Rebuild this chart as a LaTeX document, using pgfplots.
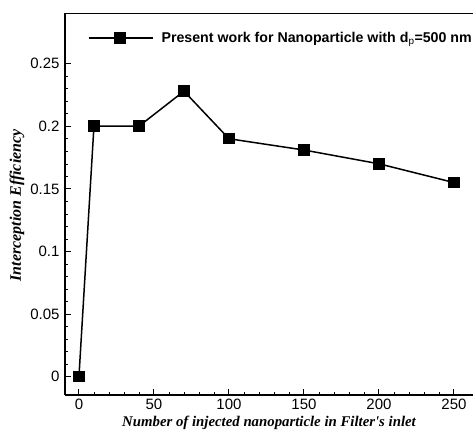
\documentclass[border=0pt]{standalone}
\usepackage{pgfplots}
\pgfplotsset{compat=1.18}
\usepackage{fontspec}
\setmainfont{Liberation Sans}
\newfontfamily\timesfont{Liberation Serif}
\begin{document}
\begin{tikzpicture}[x=1pt,y=1pt]
\path[use as bounding box] (-65,-35) rectangle (408,395);
\begin{axis}[
  at={(0,0)}, anchor=south west,
  scale only axis, width=408pt, height=381.5pt,
  xmin=-9.3, xmax=262.7, ymin=-0.0146, ymax=0.29,
  axis x line=bottom, axis y line=left,
  axis line style={line width=1.5pt, -},
  xtick={0,50,...,250}, ytick={0,0.05,...,0.25},
  minor x tick num=4, minor y tick num=4,
  tick align=inside,
  major tick length=6pt, minor tick length=3pt,
  every tick/.style={black, line width=1pt},
  minor tick style={line width=0.5pt},
  /pgf/number format/assume math mode=true,
  yticklabel style={/pgf/number format/fixed, /pgf/number format/precision=2, font=\fontsize{15}{15}\selectfont, xshift=-2pt},
  xticklabel style={font=\fontsize{15}{15}\selectfont},
  scaled y ticks=false,
  xlabel={Number of injected nanoparticle in Filter's inlet},
  ylabel={Interception Efficiency},
  xlabel style={at={(axis description cs:0.5,-0.073)}, anchor=center, font=\timesfont\bfseries\itshape\fontsize{14.8}{15}\selectfont},
  ylabel style={at={(axis description cs:-0.118,0.497)}, anchor=center, font=\timesfont\bfseries\itshape\fontsize{16}{16}\selectfont},
  legend style={draw=none, fill=none, at={(axis description cs:0.056,0.936)}, anchor=west,
    font=\bfseries\fontsize{14.2}{14}\selectfont, inner sep=0pt, legend cell align=left},
  legend image code/.code={
    \draw[line width=1.5pt] (0pt,0pt) -- (64pt,0pt);
    \fill[black] (26pt,-5pt) rectangle (36pt,5pt);
  },
  legend style={/tikz/every even column/.append style={column sep=0pt}},
  clip=false,
]
\draw[line width=1.5pt] (rel axis cs:0,1) -- (rel axis cs:1,1);
\addplot[black, line width=1.5pt, mark=square*, mark size=5pt] coordinates {
  (0,0) (10,0.2) (40,0.2) (70,0.228) (100,0.19) (150,0.181) (200,0.17) (250,0.155)
};
\addlegendentry{\hspace{6pt}Present work for Nanoparticle with d$_{\mathrm p}$=500 nm}
\end{axis}
\end{tikzpicture}
\end{document}
